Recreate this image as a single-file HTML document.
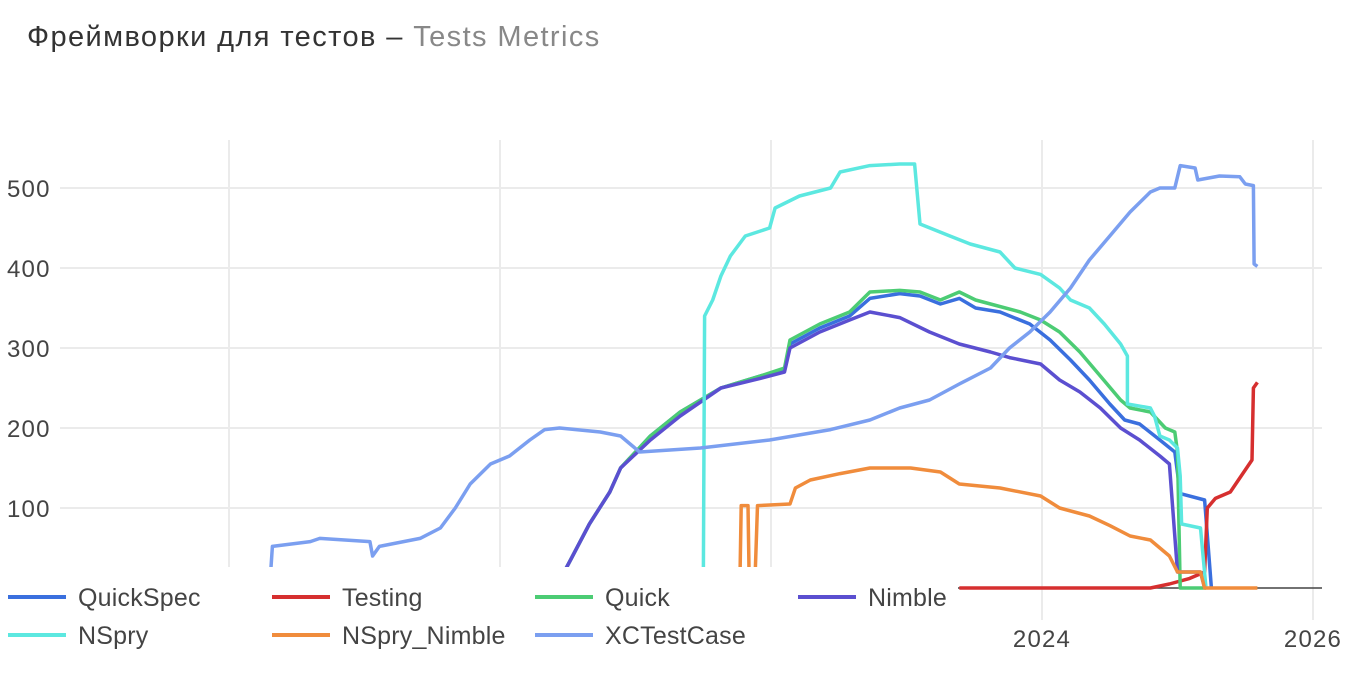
<!DOCTYPE html>
<html><head><meta charset="utf-8">
<style>
body{margin:0;background:#fff;width:1355px;height:675px;overflow:hidden;font-family:"Liberation Sans","DejaVu Sans",sans-serif;}
</style></head>
<body>
<svg id="chart" width="1355" height="675" xmlns="http://www.w3.org/2000/svg">
<text x="27" y="46" font-size="29" letter-spacing="1.4" fill="#333"><tspan>Фреймворки для тестов – </tspan><tspan fill="#888">Tests Metrics</tspan></text>
<g id="grid"></g>
<g id="axes"></g>
<g id="series"></g>
<rect x="0" y="567" width="958" height="108" fill="#fff"/>
<g id="legend"></g>
</svg>
<script>
const yTicks=[100,200,300,400,500];
const xTicks=[2018,2020,2022,2024,2026];
const xTickLabels=["2018","2020","2022","2024","2026"];
const seriesNames=["QuickSpec","Testing","Quick","Nimble","NSpry","NSpry_Nimble","XCTestCase"];
const colors=["#3a6fde","#d62f2f","#4ccc74","#5b4fd0","#5ce8e0","#f08c3c","#7b9ff0"];
const quickSpec=[[2020.41,0],[2020.52,35],[2020.66,80],[2020.81,120],[2020.89,150],[2021.11,190],[2021.33,220],[2021.63,250],[2021.92,265],[2022.10,272],[2022.14,305],[2022.36,325],[2022.58,340],[2022.73,362],[2022.95,368],[2023.10,365],[2023.25,355],[2023.39,362],[2023.51,350],[2023.69,345],[2023.91,330],[2024.06,310],[2024.21,285],[2024.35,260],[2024.50,230],[2024.61,210],[2024.72,205],[2024.87,185],[2024.98,170],[2025.02,118],[2025.20,110],[2025.25,0]];
const testing=[[2023.39,0],[2024.80,0],[2024.94,5],[2025.09,12],[2025.20,20],[2025.22,100],[2025.28,112],[2025.39,120],[2025.55,160],[2025.56,250],[2025.59,257]];
const quick=[[2020.41,0],[2020.52,35],[2020.66,80],[2020.81,120],[2020.89,150],[2021.11,190],[2021.33,220],[2021.63,250],[2021.92,265],[2022.10,275],[2022.14,310],[2022.36,330],[2022.58,345],[2022.73,370],[2022.95,372],[2023.10,370],[2023.25,360],[2023.39,370],[2023.51,360],[2023.62,355],[2023.84,345],[2023.99,335],[2024.13,320],[2024.28,295],[2024.43,265],[2024.58,235],[2024.65,225],[2024.80,220],[2024.91,200],[2024.98,195],[2025.00,170],[2025.02,0],[2025.21,0]];
const nimble=[[2020.41,0],[2020.52,35],[2020.66,80],[2020.81,120],[2020.89,150],[2021.11,185],[2021.33,215],[2021.63,250],[2021.92,262],[2022.10,270],[2022.14,300],[2022.36,320],[2022.58,335],[2022.73,345],[2022.95,338],[2023.17,320],[2023.39,305],[2023.62,295],[2023.76,288],[2023.99,280],[2024.13,260],[2024.28,245],[2024.43,225],[2024.58,200],[2024.72,185],[2024.87,165],[2024.94,155],[2025.00,20],[2025.17,20],[2025.20,0]];
const nspry=[[2021.50,0],[2021.51,340],[2021.57,360],[2021.63,390],[2021.70,415],[2021.81,440],[2021.99,450],[2022.03,475],[2022.21,490],[2022.44,500],[2022.51,520],[2022.73,528],[2022.95,530],[2023.06,530],[2023.10,455],[2023.32,440],[2023.47,430],[2023.69,420],[2023.80,400],[2023.99,392],[2024.13,375],[2024.21,360],[2024.35,350],[2024.46,330],[2024.58,305],[2024.63,290],[2024.63,230],[2024.80,225],[2024.83,215],[2024.87,190],[2024.94,185],[2025.00,175],[2025.02,140],[2025.03,80],[2025.17,75],[2025.21,0]];
const nspryNimble=[[2021.77,0],[2021.78,103],[2021.83,103],[2021.84,0],[2021.88,0],[2021.90,103],[2022.14,105],[2022.18,125],[2022.29,135],[2022.51,143],[2022.73,150],[2023.03,150],[2023.25,145],[2023.39,130],[2023.69,125],[2023.99,115],[2024.13,100],[2024.35,90],[2024.50,78],[2024.65,65],[2024.80,60],[2024.94,40],[2025.00,20],[2025.17,20],[2025.20,0],[2025.59,0]];
const xcTestCase=[[2018.30,0],[2018.32,52],[2018.60,58],[2018.67,62],[2019.04,58],[2019.06,40],[2019.11,52],[2019.41,62],[2019.56,75],[2019.67,100],[2019.78,130],[2019.93,155],[2020.07,165],[2020.22,185],[2020.33,198],[2020.44,200],[2020.74,195],[2020.89,190],[2020.96,180],[2021.03,170],[2021.48,175],[2021.99,185],[2022.44,198],[2022.73,210],[2022.95,225],[2023.17,235],[2023.39,255],[2023.62,275],[2023.76,300],[2023.91,320],[2024.06,345],[2024.21,375],[2024.35,410],[2024.50,440],[2024.65,470],[2024.80,495],[2024.87,500],[2024.98,500],[2025.02,528],[2025.13,525],[2025.15,510],[2025.31,515],[2025.46,514],[2025.50,505],[2025.56,503],[2025.565,405],[2025.59,402]];
const seriesData=[quickSpec,testing,quick,nimble,nspry,nspryNimble,xcTestCase];

const NS="http://www.w3.org/2000/svg";
const X=yr=>229+(yr-2018)*135.5;
const Y=v=>588-v*0.8;
const grid=document.getElementById('grid'),ser=document.getElementById('series'),leg=document.getElementById('legend'),axes=document.getElementById('axes');
function mk(tag,attrs,parent){const e=document.createElementNS(NS,tag);for(const k in attrs)e.setAttribute(k,attrs[k]);parent.appendChild(e);return e;}
yTicks.forEach(t=>{
 const l=mk('line',{x1:60,x2:1322,y1:Y(t),y2:Y(t),stroke:'#ebebeb','stroke-width':2},grid);
 
 
 const tx=mk('text',{x:7,y:Y(t)+9,'font-size':24,'letter-spacing':1.2,fill:'#444'},axes);
 tx.textContent=t;
 
 
});
xTicks.forEach((t,i)=>{
 const l=mk('line',{x1:X(t),x2:X(t),y1:140,y2:620,stroke:'#ebebeb','stroke-width':2},grid);
 
 
 const tx=mk('text',{x:X(t),y:647,'font-size':24,'letter-spacing':1.2,fill:'#444','text-anchor':'middle'},axes);
 tx.textContent=xTickLabels[i];
 
 
});
const zl=mk('line',{x1:60,x2:1322,y1:Y(0),y2:Y(0),stroke:'#444','stroke-width':1.5},grid);


seriesData.forEach((d,i)=>{
 const p=mk('polyline',{points:d.map(q=>X(q[0]).toFixed(1)+','+Y(q[1]).toFixed(1)).join(' '),fill:'none',stroke:colors[i],'stroke-width':3.5,'stroke-linejoin':'round'},ser);
 
 
});
const legPos=[[8,597],[272,597],[535,597],[798,597],[8,635],[272,635],[535,635]];
seriesNames.forEach((n,i)=>{
 const g=mk('g',{},leg);
 
 
 const [lx,ly]=legPos[i];
 mk('line',{x1:lx,x2:lx+58,y1:ly,y2:ly,stroke:colors[i],'stroke-width':4},g);
 const t=mk('text',{x:lx+70,y:ly+9,'font-size':25,'letter-spacing':0.2,fill:'#444'},g);
 t.textContent=n;
});
</script>
</body></html>
